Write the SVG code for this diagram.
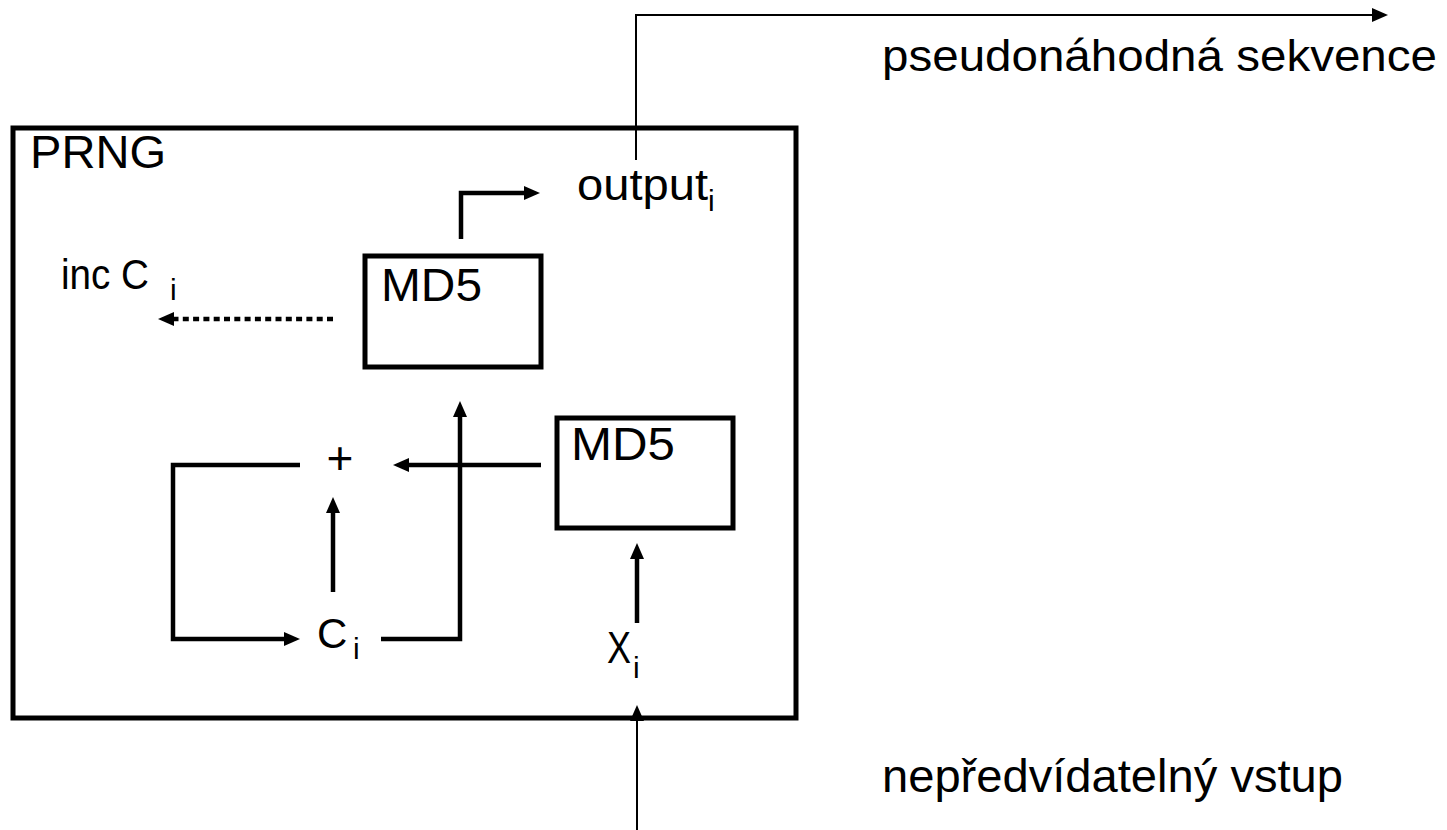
<svg xmlns="http://www.w3.org/2000/svg" width="1447" height="830" viewBox="0 0 1447 830">
<style>
text{font-family:"Liberation Sans",Arial,sans-serif;fill:#000}
.lbl{font-size:46px}
.sub{font-size:30px}
.box{fill:none;stroke:#000;stroke-width:5}
.thick{fill:none;stroke:#000;stroke-width:4.5}
.thin{fill:none;stroke:#000;stroke-width:2}
.dot{fill:none;stroke:#000;stroke-width:4.5;stroke-dasharray:6 4.3}
</style>
<defs>
<marker id="ah" markerUnits="userSpaceOnUse" markerWidth="16" markerHeight="14" refX="6" refY="7" orient="auto">
<path d="M0,0 L16,7 L0,14 z" fill="#000"/>
</marker>
</defs>
<rect width="1447" height="830" fill="#fff"/>
<g id="prng">
<rect class="box" x="13" y="128" width="783" height="590"/>
<text class="lbl" x="30" y="168" textLength="136" lengthAdjust="spacingAndGlyphs">PRNG</text>
</g>
<g id="md5a">
<rect class="box" x="365" y="256" width="176" height="111"/>
<text class="lbl" x="381" y="301" textLength="101" lengthAdjust="spacingAndGlyphs">MD5</text>
</g>
<g id="md5b">
<rect class="box" x="557" y="418" width="176" height="110"/>
<text class="lbl" x="571" y="460" textLength="104" lengthAdjust="spacingAndGlyphs">MD5</text>
</g>
<g id="output">
<text class="lbl" x="577" y="200" style="font-size:45px" textLength="131" lengthAdjust="spacingAndGlyphs">output</text>
<text class="sub" x="708" y="211">i</text>
</g>
<g id="inc">
<text class="lbl" x="61" y="289" style="font-size:42px" textLength="88" lengthAdjust="spacingAndGlyphs">inc C</text>
<text class="sub" x="170" y="300">i</text>
</g>
<g id="plus">
<text class="lbl" x="340" y="474" text-anchor="middle">+</text>
</g>
<g id="ci">
<text class="lbl" x="317" y="648" style="font-size:42px">C</text>
<text class="sub" x="353" y="659">i</text>
</g>
<g id="xi">
<text class="lbl" x="607" y="663" style="font-size:44px" textLength="24" lengthAdjust="spacingAndGlyphs">X</text>
<text class="sub" x="633" y="678">i</text>
</g>
<g id="seq">
<text class="lbl" x="882" y="71" style="font-size:44px" textLength="555" lengthAdjust="spacingAndGlyphs">pseudonáhodná sekvence</text>
</g>
<g id="input">
<text class="lbl" x="882" y="792" textLength="461" lengthAdjust="spacingAndGlyphs">nepředvídatelný vstup</text>
</g>
<g id="connectors">
<polyline class="thin" points="636,160 636,15 1378,15" marker-end="url(#ah)"/>
<line class="thin" x1="637" y1="830" x2="637" y2="715" marker-end="url(#ah)"/>
<polyline class="thick" points="461,239 461,193 530,193" marker-end="url(#ah)"/>
<line class="dot" x1="333" y1="319" x2="168" y2="319" marker-end="url(#ah)"/>
<polyline class="thick" points="381,639 460,639 460,411" marker-end="url(#ah)"/>
<polyline class="thick" points="300,465 173,465 173,639 290,639" marker-end="url(#ah)"/>
<line class="thick" x1="333" y1="592" x2="333" y2="507" marker-end="url(#ah)"/>
<line class="thick" x1="541" y1="465" x2="403" y2="465" marker-end="url(#ah)"/>
<line class="thick" x1="637" y1="623" x2="637" y2="553" marker-end="url(#ah)"/>
</g>
</svg>
